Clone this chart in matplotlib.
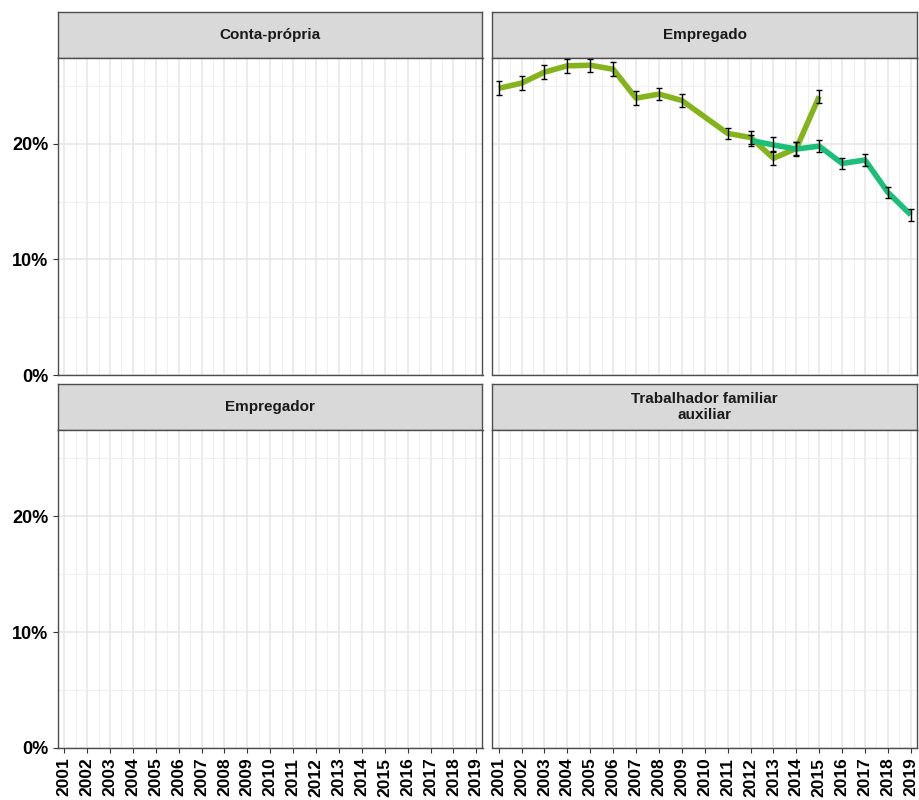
import numpy as np
import matplotlib.pyplot as plt
from matplotlib.ticker import FuncFormatter, MultipleLocator

plt.rcParams['font.family'] = ['Liberation Sans', 'DejaVu Sans']

# PNAD (2001-2015, no survey in 2010) and PNAD Continua (2012-2019)
anos_pnad = [2001, 2002, 2003, 2004, 2005, 2006, 2007, 2008, 2009, 2011, 2012, 2013, 2014, 2015]
pnad = [24.8, 25.25, 26.2, 26.75, 26.8, 26.45, 23.95, 24.3, 23.75, 20.9, 20.55, 18.75, 19.6, 24.1]
pnad_ic = [0.6, 0.6, 0.6, 0.6, 0.55, 0.6, 0.6, 0.55, 0.55, 0.5, 0.55, 0.6, 0.6, 0.55]

anos_pnadc = [2012, 2013, 2014, 2015, 2016, 2017, 2018, 2019]
pnadc = [20.3, 19.9, 19.55, 19.8, 18.3, 18.6, 15.8, 13.85]
pnadc_ic = [0.5, 0.65, 0.6, 0.55, 0.5, 0.5, 0.5, 0.5]

paineis = ["Conta-própria", "Empregado", "Empregador", "Trabalhador familiar\nauxiliar"]
anos = list(range(2001, 2020))

cor_pnad = "#84B31C"
cor_pnadc = "#1BBF7A"

fig = plt.figure(figsize=(9.2, 8), dpi=100)
W, H = 920, 800

def px_axes(x0, y0, x1, y1):
    return fig.add_axes([x0 / W, 1 - y1 / H, (x1 - x0) / W, (y1 - y0) / H])

cols = [(58, 482.5), (492.5, 917)]
rows = [(11.7, 57.7, 375), (384, 430, 748)]

pct = FuncFormatter(lambda v, p: f"{v:.0f}%")

for i, nome in enumerate(paineis):
    r, c = divmod(i, 2)
    x0, x1 = cols[c]
    s0, s1, p1 = rows[r]

    strip = px_axes(x0, s0, x1, s1)
    strip.set_facecolor("#D9D9D9")
    strip.set_xticks([])
    strip.set_yticks([])
    for sp in strip.spines.values():
        sp.set_color("#4D4D4D")
        sp.set_linewidth(1.0)
    strip.text(0.5, 0.5, nome, ha="center", va="center", fontsize=11,
               fontweight="bold", color="#1A1A1A", linespacing=1.25,
               transform=strip.transAxes)

    ax = px_axes(x0, s1, x1, p1)
    ax.set_xlim(2000.73, 2019.27)
    ax.set_ylim(0, 27.45)
    ax.xaxis.set_major_locator(MultipleLocator(1))
    ax.xaxis.set_minor_locator(MultipleLocator(0.5))
    ax.yaxis.set_major_locator(MultipleLocator(10))
    ax.yaxis.set_minor_locator(MultipleLocator(5))
    ax.grid(which="major", color="#E6E6E6", linewidth=1.1)
    ax.grid(which="minor", color="#EFEFEF", linewidth=0.7)
    ax.set_axisbelow(True)
    for sp in ax.spines.values():
        sp.set_color("#4D4D4D")
        sp.set_linewidth(1.0)
    ax.tick_params(which="minor", length=0)
    ax.tick_params(which="major", length=3.5, width=0.8, color="#333333")
    ax.yaxis.set_major_formatter(pct)

    if r == 1:
        ax.set_xticks(anos)
        ax.set_xticklabels([str(a) for a in anos], rotation=90, fontsize=12.5,
                           fontweight="bold", color="black")
    else:
        ax.tick_params(axis="x", which="both", length=0, labelbottom=False)
    if c == 0:
        for t in ax.get_yticklabels():
            t.set_fontsize(13)
            t.set_fontweight("bold")
            t.set_color("black")
    else:
        ax.tick_params(axis="y", which="both", length=0, labelleft=False)

    if nome == "Empregado":
        ax.plot(anos_pnad, pnad, color=cor_pnad, linewidth=4.0, solid_capstyle="butt",
                solid_joinstyle="round", zorder=3)
        ax.plot(anos_pnadc, pnadc, color=cor_pnadc, linewidth=4.0, solid_capstyle="butt",
                solid_joinstyle="round", zorder=4)
        ax.errorbar(anos_pnad, pnad, yerr=pnad_ic, fmt="none", ecolor="black",
                    elinewidth=1.0, capsize=2.2, capthick=1.0, zorder=5)
        ax.errorbar(anos_pnadc, pnadc, yerr=pnadc_ic, fmt="none", ecolor="black",
                    elinewidth=1.0, capsize=2.2, capthick=1.0, zorder=5)

fig.savefig("out.png", dpi=100, facecolor="white")
